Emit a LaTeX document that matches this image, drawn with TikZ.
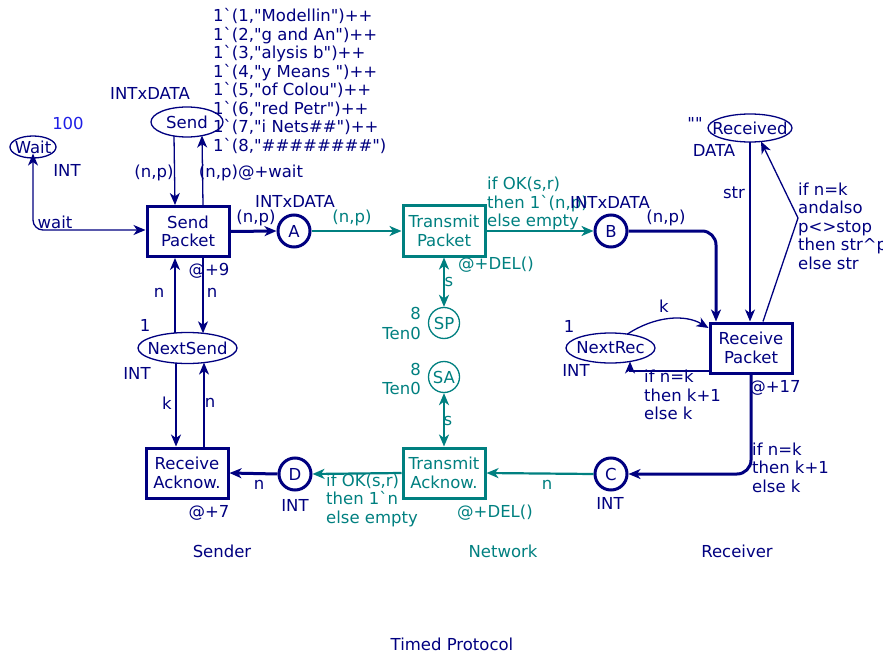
\documentclass[tikz,border=0pt]{standalone}
\usepackage{fontspec}
\newfontfamily\dv{DejaVu Sans}
\usetikzlibrary{arrows.meta}
\definecolor{navy}{RGB}{0,0,128}
\definecolor{tealc}{RGB}{0,128,128}
\definecolor{blu}{RGB}{30,30,230}
\tikzset{
  lbl/.style={inner sep=0pt, text=navy},
  tl/.style={inner sep=0pt, text=tealc},
  plc/.style={draw=navy, line width=1.3pt},
  hub/.style={circle, draw=navy, line width=3pt, inner sep=0pt, minimum size=32pt, text=navy},
  tpl/.style={circle, draw=tealc, line width=1.3pt, inner sep=0pt, minimum size=31pt, text=tealc},
  trn/.style={rectangle, draw=navy, line width=3pt, minimum width=82pt, minimum height=50pt, align=center, inner sep=0pt, text=navy},
  ttrn/.style={trn, draw=tealc, text=tealc},
  arr/.style={-{Stealth[length=12pt,width=10pt,inset=3.5pt]}},
  barr/.style={{Stealth[length=12pt,width=10pt,inset=3.5pt]}-{Stealth[length=12pt,width=10pt,inset=3.5pt]}},
  thinarc/.style={draw=navy, line width=1.3pt},
  thickarc/.style={draw=navy, line width=3pt},
  tarc/.style={draw=tealc, line width=2.2pt},
}
\begin{document}
\begin{tikzpicture}[x=1pt,y=-1pt,font=\dv\fontsize{16.5}{18.5}\selectfont]
\useasboundingbox[fill=white] (0,0) rectangle (883,655);

% ---------- places ----------
\node[lbl] (wait) at (33,147) {Wait};
\draw[plc] (wait.center) ellipse [x radius=23pt, y radius=11pt];
\node[lbl] (send) at (187,122) {Send};
\draw[plc] (send.center) ellipse [x radius=36pt, y radius=15pt];
\node[lbl] (nextsend) at (187.5,348) {NextSend};
\draw[plc] (nextsend.center) ellipse [x radius=49.5pt, y radius=15.5pt];
\node[lbl] (received) at (750,128) {Received};
\draw[plc] (received.center) ellipse [x radius=42pt, y radius=14pt];
\node[lbl] (nextrec) at (610.5,348) {NextRec};
\draw[plc] (nextrec.center) ellipse [x radius=44.5pt, y radius=15pt];

\node[hub] (A) at (294,231) {A};
\node[hub] (B) at (611,231) {B};
\node[hub] (C) at (611,474) {C};
\node[hub] (D) at (295,474) {D};
\node[tpl] (SP) at (444,323) {SP};
\node[tpl] (SA) at (444,377) {SA};

% ---------- transitions ----------
\node[trn] (sendp) at (188,231.5) {Send\\Packet};
\node[trn] (recack) at (187,473) {Receive\\Acknow.};
\node[ttrn] (tp) at (444,231) {Transmit\\Packet};
\node[ttrn] (ta) at (444,473) {Transmit\\Acknow.};
\node[trn] (rp) at (751,348) {Receive\\Packet};

% ---------- helper coordinates ----------
\coordinate (rbend) at (798,218);

% ---------- arcs ----------
\draw[thinarc,barr,rounded corners=10pt] (wait.south) |- ([yshift=1.5pt]sendp.west);
\draw[thinarc,arr] ([xshift=-13pt,yshift=-14pt]send.center) -- ([xshift=-13pt]sendp.north);
\draw[thinarc,arr] ([xshift=15pt]sendp.north) -- ([xshift=15pt,yshift=-13.6pt]send.center);
\draw[thickarc,arr] (sendp.east) -- (A.west);
\draw[tarc,arr] (A.east) -- (tp.west);
\draw[tarc,arr] (tp.east) -- (B.west);
\draw[thickarc,arr,rounded corners=14pt] (B.east) -| ([xshift=-35pt]rp.north);
\draw[thinarc,arr] ([yshift=-14pt]received.center) -- ([xshift=-1pt]rp.north);
\draw[thinarc,arr] ([xshift=12pt]rp.north) -- (rbend) -- ([xshift=11pt,yshift=-13.5pt]received.center);
\draw[thinarc,arr] ([xshift=17pt,yshift=14pt]nextrec.center) .. controls (655,316) and (685,314) .. ([yshift=20pt]rp.west);
\draw[thinarc,arr] ([yshift=-23pt]rp.west) -| ([xshift=19.5pt,yshift=-13.5pt]nextrec.center);
\draw[thickarc,arr,rounded corners=14pt] (rp.south) |- (C.east);
\draw[tarc,arr] (C.west) -- (ta.east);
\draw[tarc,arr] (ta.west) -- (D.east);
\draw[thickarc,arr] (D.west) -- (recack.east);
\draw[thinarc,arr] ([xshift=-11.5pt,yshift=-15.1pt]nextsend.center) -- ([xshift=-11pt]recack.north);
\draw[thinarc,arr] ([xshift=17pt]recack.north) -- ([xshift=16.5pt,yshift=-14.6pt]nextsend.center);
\draw[thinarc,arr] ([xshift=-12.5pt,yshift=15.1pt]nextsend.center) -- ([xshift=-13pt]sendp.south);
\draw[thinarc,arr] ([xshift=15pt]sendp.south) -- ([xshift=15.5pt,yshift=14.7pt]nextsend.center);
\draw[tarc,barr] (tp.south) -- (SP.north);
\draw[tarc,barr] (SA.south) -- (ta.north);

% ---------- inscriptions ----------
\node[inner sep=0pt, text=blu] (w100) at (68,123) {100};
\node[lbl] (wint) at (67,170) {INT};
\node[lbl] (wlab) at (55,222) {wait};
\node[lbl] (sendty) at (150,93) {INTxDATA};
\node[lbl, anchor=west, align=left] (initm) at (213,81) {1`(1,"Modellin")++\\1`(2,"g and An")++\\1`(3,"alysis b")++\\1`(4,"y Means ")++\\1`(5,"of Colou")++\\1`(6,"red Petr")++\\1`(7,"i Nets\#\#")++\\1`(8,"\#\#\#\#\#\#\#\#")};
\node[lbl] (l1) at (154,173) {(n,p)};
\node[lbl] (l2) at (251,173) {(n,p)@+wait};
\node[lbl] (aty) at (295,201) {INTxDATA};
\node[lbl] (l3) at (256,218) {(n,p)};
\node[tl] (l4) at (352,218) {(n,p)};
\node[tl, anchor=west, align=left] (g1) at (487,203.5) {if OK(s,r)\\then 1`(n,p)\\else empty};
\node[lbl] (bty) at (610,202) {INTxDATA};
\node[lbl] (l5) at (666,218) {(n,p)};
\node[tl] (del1) at (496,265) {@+DEL()};
\node[tl] (s1) at (449,282) {s};
\node[tl, anchor=east] (sp8) at (421,313) {8};
\node[tl, anchor=east] (spty) at (421,333) {Ten0};
\node[tl, anchor=east] (sa8) at (421,369) {8};
\node[tl, anchor=east] (saty) at (421,388) {Ten0};
\node[tl] (s2) at (448,421) {s};
\node[lbl] (str) at (734,193) {str};
\node[lbl, anchor=west, align=left] (g2) at (798,226) {if n=k\\andalso\\p<>stop\\then str\textasciicircum p\\else str};
\node[lbl] (rinit) at (695,123) {""};
\node[lbl] (rty) at (714,150) {DATA};
\node[lbl] (k1) at (664,306) {k};
\node[lbl] (nr1) at (569,326) {1};
\node[lbl] (nrty) at (576,370) {INT};
\node[lbl, anchor=west, align=left] (g3) at (644,395) {if n=k\\then k+1\\else k};
\node[lbl] (d17) at (775,388) {@+17};
\node[lbl, anchor=west, align=left] (g4) at (752,467.5) {if n=k\\then k+1\\else k};
\node[tl] (n1) at (547,485) {n};
\node[lbl] (cty) at (610,503) {INT};
\node[tl, anchor=west, align=left] (g5) at (326,500) {if OK(s,r)\\then 1`n\\else empty};
\node[tl] (del2) at (495,513) {@+DEL()};
\node[lbl] (n2) at (259,485) {n};
\node[lbl] (dty) at (295,505) {INT};
\node[lbl] (d7) at (209,513) {@+7};
\node[lbl] (k2) at (167,403) {k};
\node[lbl] (n3) at (210,403) {n};
\node[lbl] (nsty) at (137,373) {INT};
\node[lbl] (ns1) at (145,325) {1};
\node[lbl] (d9) at (209,271) {@+9};
\node[lbl] (n4) at (159,293) {n};
\node[lbl] (n5) at (212,293) {n};

% ---------- page labels ----------
\node[lbl] (sender) at (222,551) {Sender};
\node[tl] (network) at (503,551) {Network};
\node[lbl] (receiver) at (737,551) {Receiver};
\node[lbl] (title) at (452,644) {Timed Protocol};
\end{tikzpicture}
\end{document}
